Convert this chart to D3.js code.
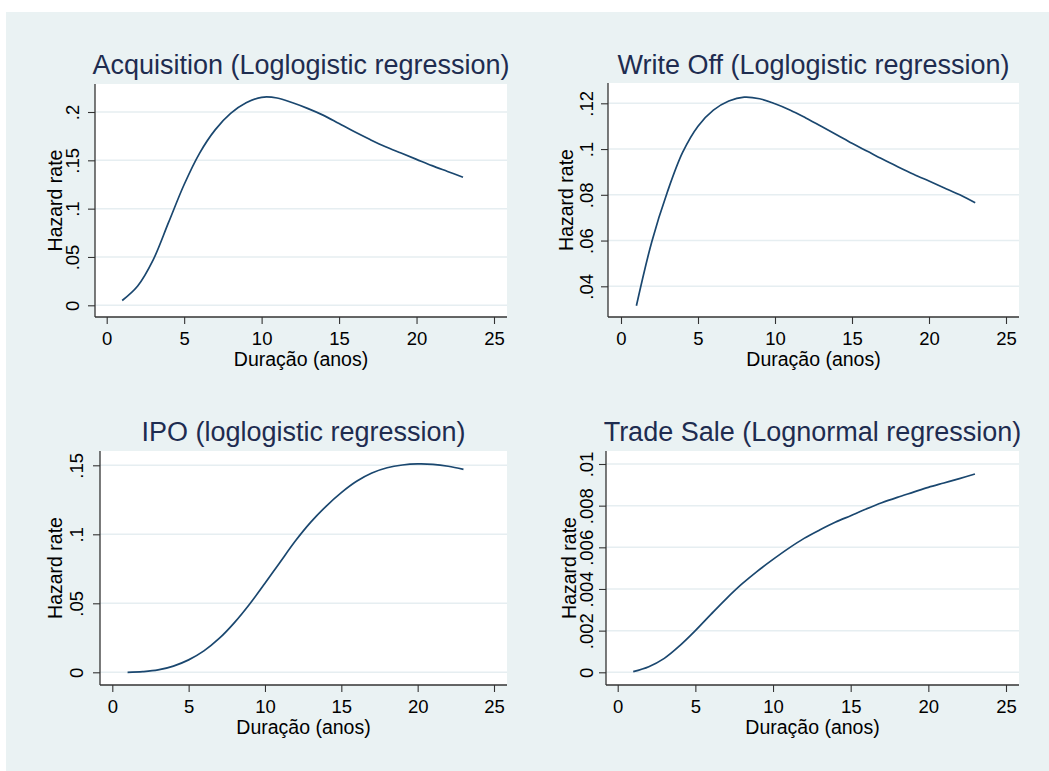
<!DOCTYPE html>
<html>
<head>
<meta charset="utf-8">
<script src="https://cdn.jsdelivr.net/npm/d3@7"></script>
<style>
  body { margin: 0; background: #fff; }
  svg { display: block; font-family: "Liberation Sans", Arial, Helvetica, sans-serif; }
</style>
</head>
<body>
<svg width="1049" height="771"></svg>
<script>
// duration in years
var years = [1, 2, 3, 4, 5, 6, 7, 8, 9, 10, 11, 12, 13, 14, 15, 16, 17, 18, 19, 20, 21, 22, 23];

var acquisition = [0.005, 0.020, 0.047, 0.086, 0.125, 0.1575, 0.1815, 0.1985, 0.2095, 0.2152, 0.2145, 0.2095,
  0.2035, 0.1965, 0.188, 0.1795, 0.1715, 0.164, 0.1575, 0.151, 0.1445, 0.1385, 0.1325];

var writeOff = [0.0315, 0.0595, 0.081, 0.0985, 0.110, 0.117, 0.121, 0.1227, 0.122, 0.1198, 0.117, 0.1136,
  0.110, 0.1063, 0.1025, 0.099, 0.0955, 0.0922, 0.089, 0.086, 0.083, 0.080, 0.0765];

var ipo = [0, 0.0005, 0.0017, 0.0045, 0.009, 0.0155, 0.0245, 0.036, 0.0495, 0.0645, 0.080, 0.0953,
  0.1088, 0.1203, 0.1302, 0.1384, 0.1444, 0.1482, 0.1502, 0.151, 0.1507, 0.1493, 0.147];

var tradeSale = [0.00003, 0.00027, 0.00067, 0.00128, 0.0020, 0.00278, 0.00354, 0.00424, 0.00486, 0.00542,
  0.00595, 0.00643, 0.00683, 0.0072, 0.00752, 0.00784, 0.00814, 0.0084, 0.00864, 0.00888, 0.00909, 0.0093, 0.00952];

var xTicks = [0, 5, 10, 15, 20, 25];
var acqTicks = [0, 0.05, 0.1, 0.15, 0.2];
var woTicks = [0.04, 0.06, 0.08, 0.1, 0.12];
var ipoTicks = [0, 0.05, 0.1, 0.15];
var tsTicks = [0, 0.002, 0.004, 0.006, 0.008, 0.01];

var titles = ["Acquisition (Loglogistic regression)", "Write Off (Loglogistic regression)",
  "IPO (loglogistic regression)", "Trade Sale (Lognormal regression)"];
var xTitle = "Duração (anos)";
var yTitle = "Hazard rate";

var svg = d3.select("svg");

svg.append("rect")
  .attr("x", 6).attr("y", 12)
  .attr("width", 1043).attr("height", 759)
  .attr("fill", "#eaf2f3");

// stata style labels: .05 instead of 0.05
var fmt = function (d) { return d === 0 ? "0" : String(d).replace(/^0/, ""); };

var panels = [
  { title: titles[0], values: acquisition, ticks: acqTicks, yDom: [0, 0.2],
    box: [95, 507, 84, 317], xr: [106.7, 494], yr: [305.3, 112], titleY: 74, lab: 15.7, ytl: 61.7 },
  { title: titles[1], values: writeOff, ticks: woTicks, yDom: [0.04, 0.12],
    box: [608, 1019, 83, 317], xr: [621, 1006], yr: [286.3, 103.3], titleY: 74, lab: 15.3, ytl: 573.3 },
  { title: titles[2], values: ipo, ticks: ipoTicks, yDom: [0, 0.15],
    box: [100, 507, 451, 685], xr: [112.3, 494], yr: [672.3, 465.3], titleY: 441, lab: 16.7, ytl: 61.7 },
  { title: titles[3], values: tradeSale, ticks: tsTicks, yDom: [0, 0.01],
    box: [606, 1019, 451, 685], xr: [617.7, 1006], yr: [672.3, 464], titleY: 441, lab: 13.3, ytl: 576 }
];

panels.forEach(function (p) {
  var left = p.box[0], right = p.box[1], top = p.box[2], bottom = p.box[3];

  var x = d3.scaleLinear().domain([0, 25]).range(p.xr);
  var y = d3.scaleLinear().domain(p.yDom).range(p.yr);

  var g = svg.append("g");

  g.append("rect")
    .attr("x", left).attr("y", top)
    .attr("width", right - left).attr("height", bottom - top)
    .attr("fill", "#fff");

  // grid
  g.append("g")
    .selectAll("line")
    .data(p.ticks)
    .enter().append("line")
    .attr("x1", left).attr("x2", right)
    .attr("y1", function (d) { return y(d); })
    .attr("y2", function (d) { return y(d); })
    .attr("stroke", "#e6eef1")
    .attr("stroke-width", 1.5);

  // x axis
  var xa = g.append("g")
    .attr("transform", "translate(0," + bottom + ")")
    .call(d3.axisBottom(x).tickValues(xTicks).tickSize(7).tickSizeOuter(0));
  xa.attr("font-family", null);
  xa.select(".domain").remove();
  xa.selectAll("line").attr("stroke", "#333").attr("stroke-width", 1.1);
  xa.selectAll("text")
    .attr("font-size", 18.5)
    .attr("fill", "#000")
    .attr("dy", 0)
    .attr("y", 28);

  // y axis, labels turned like stata
  var ya = g.append("g")
    .attr("transform", "translate(" + left + ",0)")
    .call(d3.axisLeft(y).tickValues(p.ticks).tickFormat(fmt).tickSize(7).tickSizeOuter(0));
  ya.attr("font-family", null);
  ya.select(".domain").remove();
  ya.selectAll("line").attr("stroke", "#333").attr("stroke-width", 1.1);
  ya.selectAll("text")
    .attr("font-size", 18.5)
    .attr("fill", "#000")
    .attr("text-anchor", "middle")
    .attr("x", 0)
    .attr("dy", 0)
    .attr("y", -p.lab)
    .attr("transform", "rotate(-90)");

  // axis lines
  g.append("line")
    .attr("x1", left).attr("x2", right)
    .attr("y1", bottom).attr("y2", bottom)
    .attr("stroke", "#333").attr("stroke-width", 1.3);
  g.append("line")
    .attr("x1", left).attr("x2", left)
    .attr("y1", top).attr("y2", bottom)
    .attr("stroke", "#333").attr("stroke-width", 1.3);

  var line = d3.line()
    .x(function (d, i) { return x(years[i]); })
    .y(function (d) { return y(d); })
    .curve(d3.curveCatmullRom.alpha(0.5));

  g.append("path")
    .datum(p.values)
    .attr("fill", "none")
    .attr("stroke", "#1a476f")
    .attr("stroke-width", 1.7)
    .attr("d", line);

  g.append("text")
    .attr("x", (left + right) / 2)
    .attr("y", p.titleY)
    .attr("text-anchor", "middle")
    .attr("font-size", 27)
    .attr("fill", "#1e2c50")
    .text(p.title);

  g.append("text")
    .attr("x", (left + right) / 2)
    .attr("y", bottom + 49)
    .attr("text-anchor", "middle")
    .attr("font-size", 19.5)
    .attr("fill", "#000")
    .text(xTitle);

  g.append("text")
    .attr("transform", "translate(" + p.ytl + "," + ((top + bottom) / 2) + ") rotate(-90)")
    .attr("text-anchor", "middle")
    .attr("font-size", 19.5)
    .attr("fill", "#000")
    .text(yTitle);
});
</script>
</body>
</html>
